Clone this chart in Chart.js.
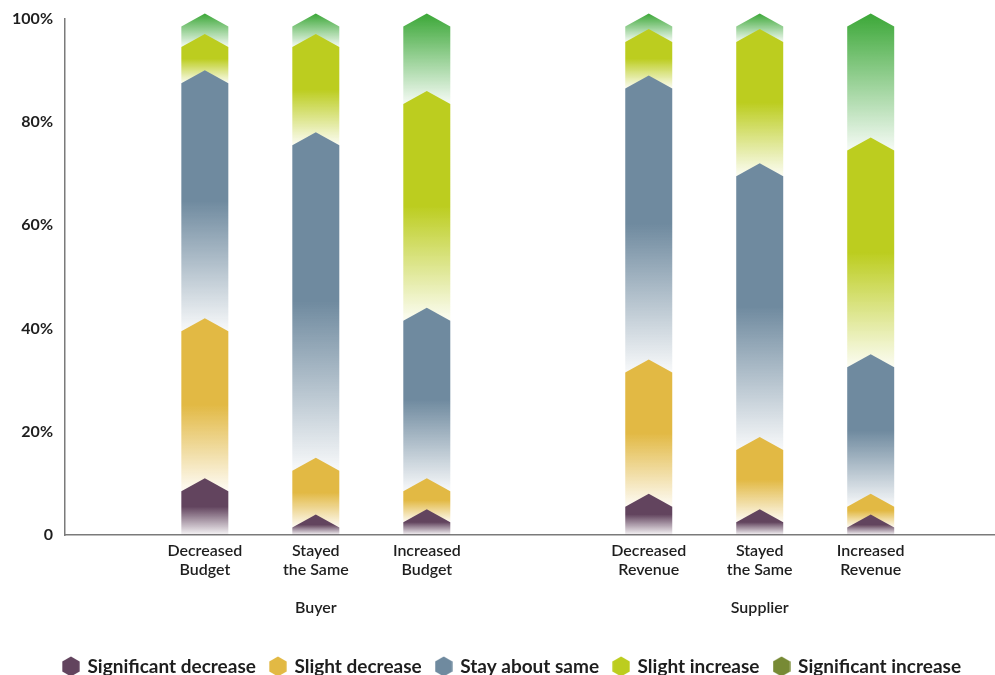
<!DOCTYPE html>
<html>
<head>
<meta charset="utf-8">
<script src="https://cdn.jsdelivr.net/npm/chart.js@4"></script>
<style>
  html, body { margin: 0; padding: 0; background: #ffffff; }
  #wrap { width: 995px; height: 675px; }
</style>
</head>
<body>
<div id="wrap"><canvas id="budgetChart"></canvas></div>
<script>
"use strict";

// Categories, grouped by respondent type
const categories = [
  ["Decreased", "Budget"],
  ["Stayed", "the Same"],
  ["Increased", "Budget"],
  ["Decreased", "Revenue"],
  ["Stayed", "the Same"],
  ["Increased", "Revenue"],
];
const groups = ["Buyer", "Supplier"];
const groupSize = 3;

const seriesNames = [
  "Significant decrease",
  "Slight decrease",
  "Stay about same",
  "Slight increase",
  "Significant increase",
];

// Percent of respondents (each bar sums to 100)
const significantDecrease = [10, 3, 4, 7, 4, 3];
const slightDecrease = [31, 11, 6, 26, 14, 4];
const stayAboutSame = [48, 63, 33, 55, 53, 27];
const slightIncrease = [7, 19, 42, 9, 26, 42];
const significantIncrease = [4, 4, 15, 3, 3, 24];

const yTicks = [0, 20, 40, 60, 80, 100];

const barColors = ["#62445e", "#e2b944", "#6f8a9f", "#bccd1f", "#3fa93b"];
const legendColors = ["#62445e", "#e2b944", "#6f8a9f", "#bccd1f", "#778a35"];
const solidPart = [0.5, 0.5, 0.5, 0.5, 0.02];

const series = [
  significantDecrease,
  slightDecrease,
  stayAboutSame,
  slightIncrease,
  significantIncrease,
];

// one empty slot between the two groups
const slotOf = (i) => i + Math.floor(i / groupSize);
const slots = categories.map((c, i) => slotOf(i));

Chart.defaults.font.family = "Lato, 'Open Sans', sans-serif";
Chart.defaults.color = "#1e1e1e";

function hexToRgba(hex, a) {
  const n = parseInt(hex.slice(1), 16);
  return `rgba(${(n >> 16) & 255},${(n >> 8) & 255},${n & 255},${a})`;
}

function hexIcon(color) {
  const c = document.createElement("canvas");
  c.width = 18;
  c.height = 21;
  const g = c.getContext("2d");
  const r = 10;
  g.beginPath();
  for (let k = 0; k < 6; k++) {
    const a = Math.PI / 2 + (k * Math.PI) / 3;
    const px = 9 + r * Math.cos(a);
    const py = 10.5 - r * Math.sin(a);
    if (k === 0) g.moveTo(px, py);
    else g.lineTo(px, py);
  }
  g.closePath();
  g.fillStyle = color;
  g.fill();
  return c;
}
const hexIcons = legendColors.map(hexIcon);

// bars with a pointed top, faded towards the bottom
const chevronBars = {
  id: "chevronBars",
  afterDatasetsDraw(chart) {
    const { ctx, chartArea } = chart;
    const peakUp = 5;
    const sideDown = 8;
    ctx.save();
    for (let d = chart.data.datasets.length - 1; d >= 0; d--) {
      const meta = chart.getDatasetMeta(d);
      if (meta.hidden) continue;
      meta.data.forEach((bar) => {
        const { x, y, base, width } = bar.getProps(["x", "y", "base", "width"], true);
        if (Math.abs(base - y) < 0.5) return;
        const left = x - width / 2;
        const right = x + width / 2;
        const bottom = d === 0 ? base : Math.min(base + sideDown, chartArea.bottom);
        const sides = Math.min(y + sideDown, bottom);
        const peak = y - peakUp;

        const grad = ctx.createLinearGradient(0, peak, 0, bottom);
        grad.addColorStop(0, barColors[d]);
        grad.addColorStop(solidPart[d], barColors[d]);
        grad.addColorStop(1, hexToRgba(barColors[d], 0.05));

        ctx.beginPath();
        ctx.moveTo(left, bottom);
        ctx.lineTo(left, sides);
        ctx.lineTo(x, peak);
        ctx.lineTo(right, sides);
        ctx.lineTo(right, bottom);
        ctx.closePath();
        ctx.fillStyle = grad;
        ctx.fill();
      });
    }
    ctx.restore();
  },
};

// nudge the legend down/right a little, as in the original layout
const legendNudge = {
  id: "legendNudge",
  afterLayout(chart) {
    const legend = chart.legend;
    if (!legend) return;
    legend.top += 11;
    legend.bottom += 11;
    legend.left += 15;
    legend.right += 15;
  },
};

const ctx = document.getElementById("budgetChart").getContext("2d");

new Chart(ctx, {
  type: "bar",
  data: {
    datasets: series.map((values, d) => ({
      label: seriesNames[d],
      data: values.map((v, i) => ({ x: slotOf(i), y: v })),
      backgroundColor: "rgba(0,0,0,0)",
      borderWidth: 0,
      barThickness: 47,
    })),
  },
  options: {
    responsive: true,
    maintainAspectRatio: false,
    animation: false,
    layout: {
      autoPadding: false,
      padding: { top: 15, right: 0, bottom: 0, left: 0 },
    },
    scales: {
      x: {
        type: "linear",
        stacked: true,
        offset: false,
        min: -1.26,
        max: 7.12,
        grid: { display: false, drawTicks: false },
        border: { display: true, color: "#7a7a7a", width: 1.5 },
        afterBuildTicks: (scale) => {
          scale.ticks = slots.map((value) => ({ value }));
        },
        afterFit: (scale) => {
          scale.height = 96;
        },
        ticks: {
          autoSkip: false,
          maxRotation: 0,
          padding: 6,
          color: "#1e1e1e",
          font: { size: 16, weight: "600", lineHeight: 1.2 },
          callback: (value) => {
            const i = slots.indexOf(value);
            if (i < 0) return "";
            const lines = categories[i].slice();
            if (i % groupSize === 1) {
              lines.push("", groups[Math.floor(i / groupSize)]);
            }
            return lines;
          },
        },
      },
      y: {
        stacked: true,
        min: 0,
        max: 100,
        grid: { display: false, drawTicks: false },
        border: { display: true, color: "#7a7a7a", width: 1.5 },
        afterBuildTicks: (scale) => {
          scale.ticks = yTicks.map((value) => ({ value }));
        },
        afterFit: (scale) => {
          scale.width = 65;
        },
        ticks: {
          padding: 12,
          color: "#1e1e1e",
          font: { size: 16, weight: "bold", lineHeight: 0.8 },
          callback: (v) => (v === 0 ? "0" : v + "%"),
        },
      },
    },
    plugins: {
      tooltip: { enabled: false },
      legend: {
        position: "bottom",
        labels: {
          usePointStyle: true,
          pointStyleWidth: 14,
          padding: 15,
          color: "#1e1e1e",
          font: { size: 19, weight: "bold" },
          generateLabels: (chart) =>
            seriesNames.map((name, i) => ({
              text: name,
              fillStyle: legendColors[i],
              strokeStyle: legendColors[i],
              lineWidth: 0,
              pointStyle: hexIcons[i],
              hidden: !chart.isDatasetVisible(i),
              datasetIndex: i,
              fontColor: "#1e1e1e",
            })),
        },
      },
    },
  },
  plugins: [chevronBars, legendNudge],
});
</script>
</body>
</html>
